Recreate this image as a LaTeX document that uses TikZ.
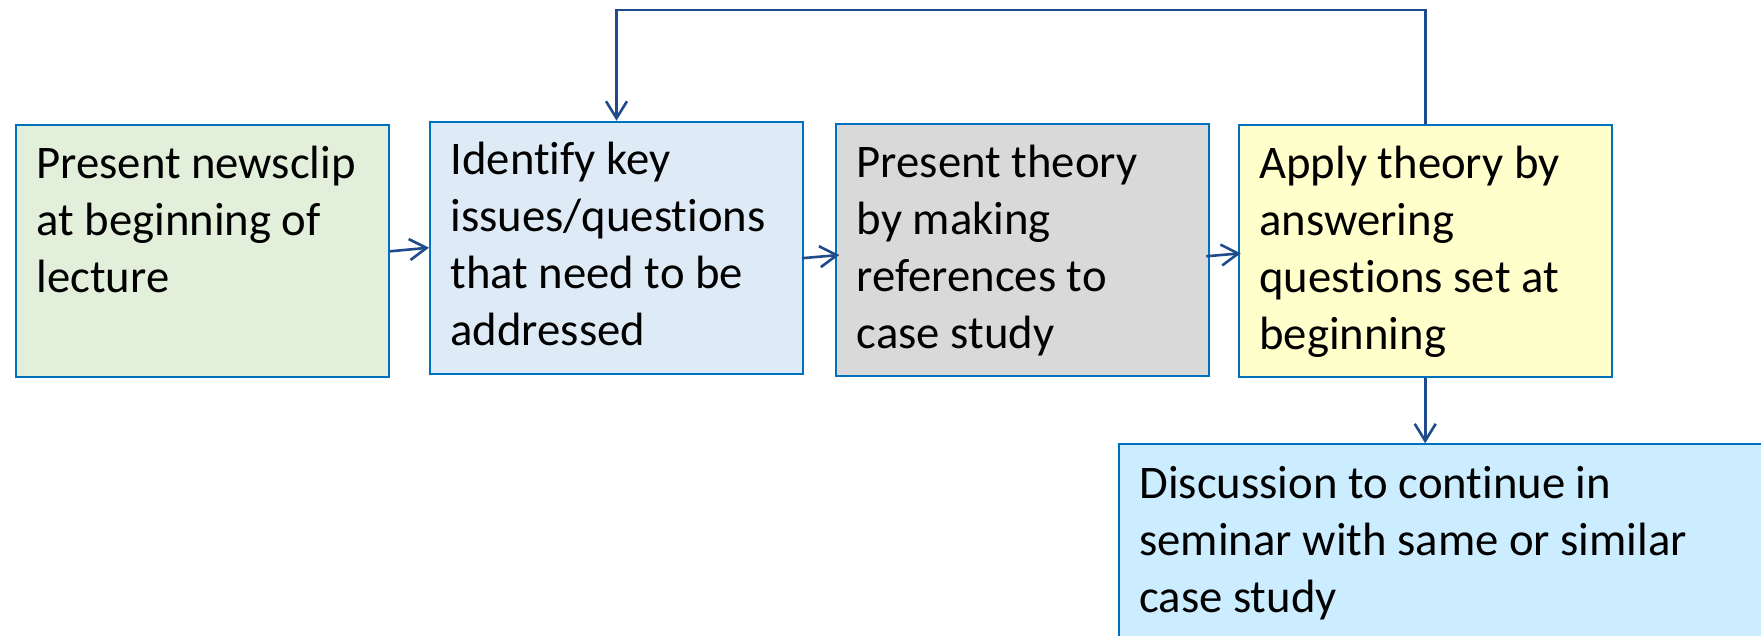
\documentclass[tikz,border=0pt]{standalone}
\usepackage{fontspec}
\setmainfont{Carlito}[Ligatures=NoCommon]
\usetikzlibrary{arrows.meta}
\definecolor{edgeblue}{RGB}{0,112,192}
\definecolor{linkblue}{RGB}{31,75,140}
\definecolor{fillgreen}{RGB}{226,239,218}
\definecolor{fillblue}{RGB}{222,235,247}
\definecolor{fillgrey}{RGB}{217,217,217}
\definecolor{fillyellow}{RGB}{255,255,204}
\definecolor{fillsky}{RGB}{204,236,255}
\tikzset{
  stepbox/.style={draw=edgeblue, line width=2pt, rectangle, inner sep=0pt,
    anchor=north west, minimum width=373pt, minimum height=252pt},
  boxtext/.style={anchor=base west, inner sep=0pt, align=left, text=black,
    font=\fontsize{46.7}{57}\selectfont},
  link/.style={draw=linkblue, line width=2.6pt,
    -{Straight Barb[length=17pt,width=21pt,line width=2.6pt]}},
}
\begin{document}
\begin{tikzpicture}[x=1pt,y=-1pt]
\useasboundingbox (0,0) rectangle (1761,636);
\clip (0,0) rectangle (1761,636);

% process boxes
\node[stepbox, fill=fillgreen]  (b1) at (15,124.3) {};
\node[stepbox, fill=fillblue]   (b2) at (429,120.7) {};
\node[stepbox, fill=fillgrey]   (b3) at (835.3,123) {};
\node[stepbox, fill=fillyellow] (b4) at (1237.7,124) {};
\node[stepbox, fill=fillsky, minimum width=700pt, minimum height=260pt] (b5) at (1117.7,443.3) {};

% box texts, placed by the baseline of their last line (57pt line pitch)
\node[boxtext] (t1) at ([shift={(21.3,168.7)}]b1.north west)
  {Present newsclip\\at beginning of\\lecture};
\node[boxtext] (t2) at ([shift={(21.3,225)}]b2.north west)
  {Identify key\\issues/questions\\that need to be\\addressed};
\node[boxtext] (t3) at ([shift={(21.3,225.3)}]b3.north west)
  {Present theory\\by making\\references to\\case study};
\node[boxtext] (t4) at ([shift={(21.5,225.3)}]b4.north west)
  {Apply theory by\\answering\\questions set at\\beginning};
\node[boxtext] (t5) at ([shift={(21.5,169)}]b5.north west)
  {Discussion to continue in\\seminar with same or similar\\case study};

% flow between boxes
\draw[link] (b1.east) -- (b2.west);
\draw[link] ([shift={(-2,10.5)}]b2.east) -- ([shift={(4,5)}]b3.west);
\draw[link] ([shift={(-4,6.3)}]b3.east) -- ([shift={(3,2.3)}]b4.west);

% feedback loop from the fourth box back to the second
\coordinate (loopR) at ([yshift=114pt]b4.north);
\coordinate (loopL) at (b2.north |- loopR);
\draw[link] (b4.north) -- (loopR) -- (loopL) -- (b2.north);

% on to the seminar
\draw[link] (b4.south) -- (b4.south |- b5.north);
\end{tikzpicture}
\end{document}
